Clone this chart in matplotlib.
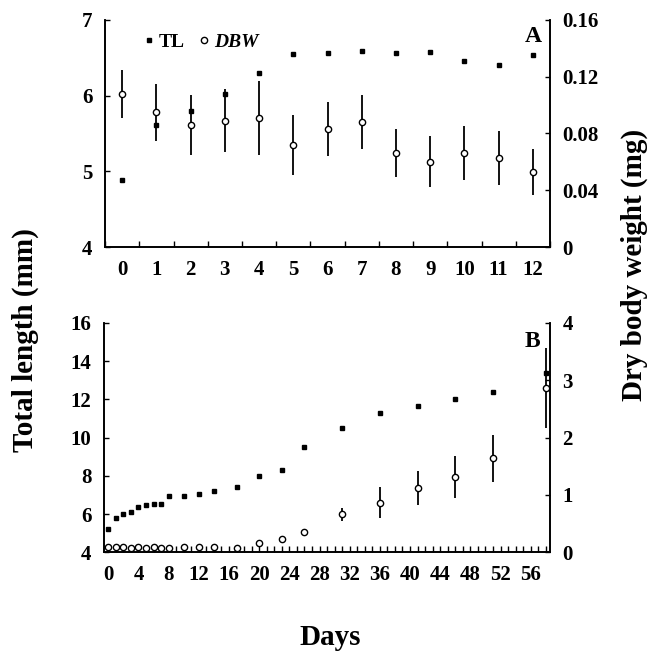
import matplotlib.pyplot as plt
from matplotlib.ticker import MultipleLocator

plt.rcParams['font.family'] = ['Liberation Serif', 'DejaVu Serif']
plt.rcParams['font.weight'] = 'bold'

# panel A: first 12 days
a_days = list(range(13))
a_tl = [4.88, 5.61, 5.80, 6.02, 6.30, 6.55, 6.56, 6.59, 6.56, 6.58, 6.46, 6.40, 6.54]
a_dbw = [0.108, 0.095, 0.086, 0.089, 0.091, 0.072, 0.083, 0.088, 0.066, 0.060, 0.066, 0.063, 0.053]
a_dbw_err = [0.017, 0.020, 0.021, 0.022, 0.026, 0.021, 0.019, 0.019, 0.017, 0.018, 0.019, 0.019, 0.016]

# panel B: whole period
b_days = [0, 1, 2, 3, 4, 5, 6, 7, 8, 10, 12, 14, 17, 20, 23, 26, 31, 36, 41, 46, 51, 58]
b_tl = [5.2, 5.8, 6.0, 6.1, 6.36, 6.46, 6.55, 6.55, 6.93, 6.93, 7.04, 7.2, 7.4,
        7.98, 8.3, 9.5, 10.5, 11.3, 11.65, 12.0, 12.4, 13.4]
b_dbw = [0.10, 0.09, 0.09, 0.08, 0.09, 0.08, 0.09, 0.08, 0.08, 0.09, 0.09, 0.09, 0.08,
         0.16, 0.23, 0.35, 0.66, 0.86, 1.12, 1.31, 1.64, 2.87]
b_dbw_err = [0.03, 0.03, 0.03, 0.03, 0.03, 0.03, 0.03, 0.03, 0.03, 0.03, 0.03, 0.03, 0.03,
             0.03, 0.03, 0.05, 0.12, 0.27, 0.30, 0.37, 0.41, 0.70]

a_tl_ticks = [4, 5, 6, 7]
a_dbw_ticks = [0, 0.04, 0.08, 0.12, 0.16]
a_dbw_labels = ['0', '0.04', '0.08', '0.12', '0.16']
b_tl_ticks = [4, 6, 8, 10, 12, 14, 16]
b_dbw_ticks = [0, 1, 2, 3, 4]
b_day_ticks = list(range(0, 57, 4))

fig = plt.figure(figsize=(6.61, 6.59), dpi=100)
axA = fig.add_axes([0.159, 0.625, 0.673, 0.345])
axB = fig.add_axes([0.157, 0.162, 0.675, 0.348])

tick_kw = dict(direction='in', length=3.5, width=1.0, labelsize=15, pad=9)


def style(ax, ax2):
    for a in (ax, ax2):
        a.spines['top'].set_visible(False)
        for s in ('left', 'right', 'bottom'):
            a.spines[s].set_linewidth(1.2)
    ax.tick_params(axis='y', which='both', **tick_kw)
    ax2.tick_params(axis='y', which='both', **tick_kw)
    ax.tick_params(axis='x', which='both', direction='in', width=1.0, labelsize=15, pad=9)


# ---- panel A
axA2 = axA.twinx()
style(axA, axA2)
hTL, = axA.plot(a_days, a_tl, 's', color='black', markersize=3, linestyle='none')
axA2.errorbar(a_days, a_dbw, yerr=a_dbw_err, fmt='none', ecolor='black', elinewidth=1.3, capsize=0)
hDBW, = axA2.plot(a_days, a_dbw, 'o', markerfacecolor='white', markeredgecolor='black',
                  markersize=4.5, markeredgewidth=1.0, linestyle='none')
axA.set_xlim(-0.5, 12.5)
axA.set_ylim(4, 7)
axA2.set_ylim(0, 0.16)
axA.set_xticks(a_days)
axA.xaxis.set_minor_locator(MultipleLocator(1, offset=0.5))
axA.tick_params(axis='x', which='major', length=0)
axA.tick_params(axis='x', which='minor', length=4)
axA.set_yticks(a_tl_ticks)
axA2.set_yticks(a_dbw_ticks)
axA2.set_yticklabels(a_dbw_labels)
axA2.text(0.962, 0.925, 'A', transform=axA2.transAxes, fontsize=17, ha='center', va='center')
leg = axA2.legend([hTL, hDBW], ['TL', 'DBW'], loc='upper left', bbox_to_anchor=(0.06, 0.985),
                  ncol=2, frameon=False, handletextpad=0.1, columnspacing=0.6, handlelength=0.8,
                  borderpad=0, prop={'size': 14, 'weight': 'bold'})
leg.get_texts()[1].set_style('italic')

# ---- panel B
axB2 = axB.twinx()
style(axB, axB2)
axB.plot(b_days, b_tl, 's', color='black', markersize=3, linestyle='none')
axB2.errorbar(b_days, b_dbw, yerr=b_dbw_err, fmt='none', ecolor='black', elinewidth=1.3, capsize=0)
axB2.plot(b_days, b_dbw, 'o', markerfacecolor='white', markeredgecolor='black',
          markersize=4.5, markeredgewidth=1.0, linestyle='none')
axB.set_xlim(-0.6, 58.55)
axB.set_ylim(4, 16)
axB2.set_ylim(0, 4)
axB.set_xticks(b_day_ticks)
axB.xaxis.set_minor_locator(MultipleLocator(1))
axB.tick_params(axis='x', which='both', length=4)
axB.set_yticks(b_tl_ticks)
axB2.set_yticks(b_dbw_ticks)
axB2.text(0.96, 0.92, 'B', transform=axB2.transAxes, fontsize=17, ha='center', va='center')

fig.text(0.038, 0.484, 'Total length (mm)', rotation=90, fontsize=21, ha='center', va='center')
fig.text(0.96, 0.598, 'Dry body weight (mg)', rotation=90, fontsize=21, ha='center', va='center')
fig.text(0.5, 0.033, 'Days', fontsize=21, ha='center', va='center')

fig.savefig('out.png', dpi=100)
